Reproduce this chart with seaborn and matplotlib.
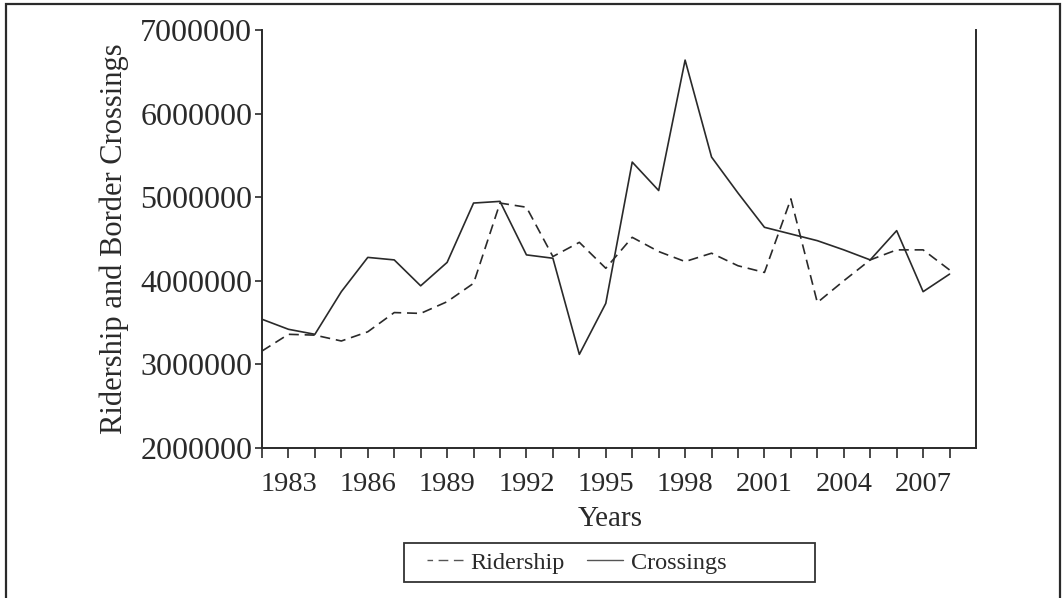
import numpy as np
import pandas as pd
import matplotlib
matplotlib.use("Agg")
import matplotlib.pyplot as plt
import seaborn as sns
from matplotlib.patches import Rectangle

years = list(range(1982, 2009))
crossings = [3540000, 3420000, 3360000, 3870000, 4280000, 4250000, 3940000, 4220000,
             4930000, 4950000, 4310000, 4270000, 3120000, 3730000, 5420000, 5080000,
             6640000, 5480000, 5050000, 4640000, 4560000, 4480000, 4370000, 4250000,
             4600000, 3870000, 4080000]
ridership = [3160000, 3360000, 3350000, 3280000, 3390000, 3620000, 3610000, 3750000,
             3970000, 4930000, 4880000, 4290000, 4460000, 4150000, 4520000, 4350000,
             4230000, 4330000, 4180000, 4100000, 4980000, 3740000, 4000000, 4250000,
             4370000, 4370000, 4130000]
y_ticks = [2000000, 3000000, 4000000, 5000000, 6000000, 7000000]
x_tick_labels = [1983, 1986, 1989, 1992, 1995, 1998, 2001, 2004, 2007]

df = pd.DataFrame({
    "Years": years * 2,
    "Value": ridership + crossings,
    "Series": ["Ridership"] * len(years) + ["Crossings"] * len(years),
})

sns.set_theme(style="white")
plt.rcParams["font.family"] = ["Liberation Serif", "DejaVu Serif"]

W, H = 1062, 598
fig = plt.figure(figsize=(W / 100, H / 100), dpi=100)
ax = fig.add_axes([262 / W, 1 - 448 / H, (976 - 262) / W, (448 - 30) / H])

ink = "#2a2a2a"
sns.lineplot(data=df, x="Years", y="Value", style="Series",
             dashes={"Ridership": (6, 3.5), "Crossings": ""},
             style_order=["Ridership", "Crossings"],
             color=ink, linewidth=1.2, ax=ax, legend=True)

ax.set_xlim(1982, 2009)
ax.set_ylim(2000000, 7000000)
ax.set_xticks(years)
ax.set_xticklabels([str(y) if y in x_tick_labels else "" for y in years])
ax.set_yticks(y_ticks)
ax.set_yticklabels([str(v) for v in y_ticks])

for s in ["left", "bottom", "right"]:
    ax.spines[s].set_visible(True)
    ax.spines[s].set_color(ink)
    ax.spines[s].set_linewidth(1.4)
ax.spines["top"].set_visible(False)

ax.tick_params(axis="x", which="both", bottom=True, length=7, width=1.2,
               color=ink, labelsize=20.5, pad=10, labelcolor=ink)
ax.tick_params(axis="y", which="both", left=True, length=5, width=1.2,
               color=ink, labelsize=23, pad=2, labelcolor=ink)
ax.grid(False)

ax.set_xlabel("Years", fontsize=21, color=ink)
ax.xaxis.set_label_coords((610 - 262) / 714, (448 - 506) / 418)
ax.set_ylabel("Ridership and Border Crossings", fontsize=22, color=ink, labelpad=8)

leg = ax.legend(loc="center left", bbox_to_anchor=(427 / W, 1 - 562.5 / H),
                bbox_transform=fig.transFigure, ncol=2, frameon=False,
                fontsize=17.5, handlelength=1.5, columnspacing=0.9, handletextpad=0.3,
                borderpad=0, borderaxespad=0)
for line, ls in zip(leg.get_lines(), [(3, (7, 4)), "-"]):
    line.set_color("#555555")
    line.set_linewidth(1.0)
    line.set_linestyle(ls)
for t in leg.get_texts():
    t.set_color(ink)

fig.patches.append(Rectangle((404 / W, 1 - 582 / H), (815 - 404) / W, (582 - 543) / H,
                             transform=fig.transFigure, fill=False,
                             edgecolor="#333333", linewidth=1.3))
fig.patches.append(Rectangle((6 / W, -0.01), (1060 - 6) / W, 1 - 4 / H + 0.01,
                             transform=fig.transFigure, fill=False,
                             edgecolor=ink, linewidth=1.6))

fig.savefig("out.png", dpi=100, facecolor="white")
